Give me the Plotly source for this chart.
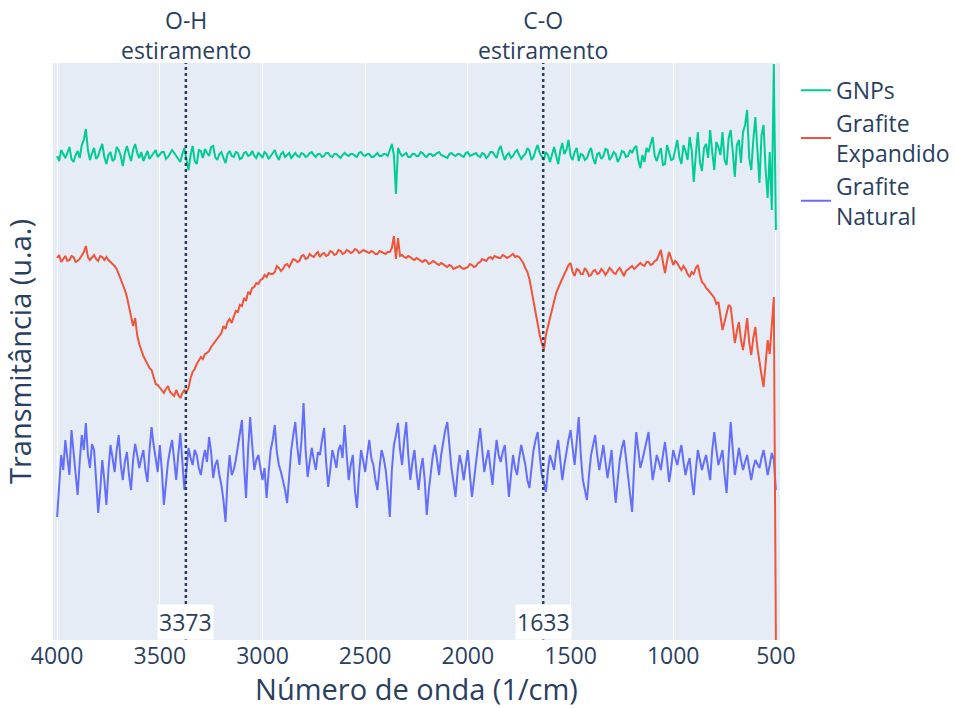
import plotly.graph_objects as go

# Wavenumber grid (cm^-1), sampled every 10 cm^-1
wavenumber = list(range(4000, 499, -10))

# Transmittance (arbitrary units, offset spectra)
gnps = [
    484, 479, 490, 486, 482, 487, 493, 481, 478, 485, 489, 482, 495, 500, 511, 490, 480, 487, 492, 481,
    484, 491, 496, 483, 476, 485, 488, 479, 481, 493, 490, 484, 474, 487, 494, 486, 479, 490, 496, 487,
    482, 488, 479, 484, 489, 481, 484, 487, 490, 483, 486, 488, 488, 481, 483, 486, 490, 487, 484, 480,
    478, 486, 492, 480, 470, 485, 494, 479, 476, 490, 489, 482, 491, 487, 484, 493, 494, 483, 480, 486,
    488, 482, 477, 486, 489, 484, 483, 488, 487, 481, 482, 487, 488, 484, 485, 489, 484, 482, 487, 485,
    482, 488, 486, 481, 484, 487, 490, 484, 480, 486, 488, 483, 485, 487, 482, 485, 487, 484, 483, 487,
    486, 483, 484, 487, 488, 485, 483, 486, 486, 483, 484, 487, 487, 484, 483, 486, 486, 484, 482, 485,
    487, 485, 484, 486, 486, 484, 483, 487, 488, 485, 484, 486, 486, 483, 483, 485, 487, 484, 484, 486,
    486, 484, 490, 496, 485, 446, 492, 487, 484, 486, 487, 483, 483, 486, 486, 484, 484, 488, 487, 484,
    483, 486, 486, 484, 485, 487, 488, 485, 484, 483, 482, 486, 487, 485, 484, 486, 486, 484, 483, 487,
    488, 484, 485, 486, 487, 484, 483, 487, 486, 482, 484, 488, 488, 485, 482, 490, 494, 486, 480, 485,
    487, 482, 484, 488, 490, 485, 481, 484, 486, 492, 489, 480, 483, 490, 495, 487, 484, 480, 488, 485,
    478, 487, 493, 484, 476, 489, 497, 486, 490, 500, 484, 480, 488, 492, 479, 486, 485, 480, 482, 488,
    492, 482, 476, 486, 487, 481, 484, 491, 490, 480, 483, 488, 486, 478, 482, 489, 488, 483, 484, 490,
    487, 492, 494, 480, 472, 485, 478, 492, 488, 496, 503, 484, 479, 486, 492, 475, 476, 495, 488, 480,
    481, 492, 500, 483, 476, 495, 489, 480, 503, 490, 458, 485, 508, 478, 469, 492, 496, 482, 510, 488,
    470, 498, 493, 485, 508, 480, 475, 502, 510, 488, 463, 495, 500, 477, 508, 515, 530, 482, 470, 500,
    523, 490, 457, 505, 515, 470, 442, 488, 430, 576, 410,
]

expandido = [
    382, 385, 378, 381, 384, 379, 380, 384, 383, 378, 379, 381, 384, 388, 394, 383, 380, 382, 385, 381,
    379, 384, 383, 380, 383, 380, 378, 377, 374, 371, 366, 361, 356, 350, 343, 333, 326, 314, 322, 305,
    296, 289, 284, 280, 276, 272, 270, 263, 256, 255, 252, 249, 247, 251, 254, 248, 246, 244, 250, 245,
    242, 247, 250, 248, 252, 262, 268, 271, 276, 280, 283, 281, 286, 287, 289, 293, 296, 298, 302, 304,
    307, 314, 311, 318, 321, 317, 324, 329, 328, 335, 334, 342, 339, 348, 346, 352, 353, 357, 356, 360,
    361, 365, 363, 367, 366, 366, 368, 374, 372, 369, 371, 375, 376, 373, 377, 381, 380, 378, 379, 384,
    385, 381, 382, 386, 384, 383, 386, 388, 383, 386, 387, 384, 385, 389, 388, 385, 386, 390, 389, 386,
    387, 390, 389, 387, 388, 391, 390, 387, 388, 390, 389, 388, 387, 389, 388, 386, 386, 389, 388, 387,
    386, 388, 388, 392, 404, 381, 402, 384, 385, 383, 382, 384, 383, 381, 380, 382, 381, 379, 378, 380,
    379, 376, 377, 379, 378, 376, 375, 377, 376, 374, 373, 375, 374, 371, 372, 373, 374, 372, 371, 372,
    373, 376, 375, 373, 374, 377, 378, 381, 380, 379, 382, 383, 381, 384, 383, 382, 382, 385, 384, 382,
    383, 385, 386, 383, 384, 383, 380, 377, 372, 368, 361, 350, 336, 327, 315, 305, 297, 290, 305, 314,
    322, 332, 340, 347, 352, 357, 362, 366, 370, 375, 377, 368, 364, 371, 370, 366, 366, 372, 369, 364,
    365, 369, 370, 366, 367, 371, 369, 365, 368, 372, 370, 367, 366, 370, 372, 368, 364, 369, 371, 372,
    374, 371, 373, 376, 377, 375, 374, 378, 378, 375, 376, 379, 380, 385, 390, 378, 367, 379, 388, 382,
    375, 379, 377, 373, 370, 374, 371, 366, 363, 368, 366, 372, 375, 365, 358, 356, 352, 350, 348, 345,
    342, 336, 338, 322, 310, 318, 326, 335, 333, 315, 297, 309, 318, 300, 290, 305, 322, 298, 285, 302,
    313, 292, 276, 265, 253, 280, 300, 286, 312, 343, 0,
]

natural = [
    123, 160, 185, 170, 200, 182, 165, 210, 190, 172, 145, 178, 205, 190, 217, 185, 172, 196, 190, 160,
    127, 150, 180, 160, 135, 170, 195, 182, 168, 190, 205, 175, 160, 178, 188, 165, 150, 180, 196, 185,
    172, 182, 190, 170, 158, 190, 213, 195, 180, 168, 195, 170, 135, 160, 178, 190, 200, 180, 160, 185,
    207, 178, 150, 170, 192, 182, 175, 190, 185, 172, 165, 180, 190, 178, 203, 188, 162, 175, 180, 165,
    155, 140, 118, 160, 185, 165, 170, 180, 195, 205, 220, 175, 142, 190, 223, 195, 170, 180, 185, 172,
    160, 172, 142, 168, 190, 200, 215, 188, 175, 168, 160, 150, 137, 165, 190, 205, 218, 192, 175, 200,
    237, 190, 163, 178, 192, 180, 170, 188, 185, 200, 212, 178, 153, 170, 190, 182, 172, 190, 195, 182,
    215, 185, 160, 175, 185, 150, 132, 165, 190, 180, 168, 185, 200, 182, 175, 160, 150, 172, 190, 182,
    170, 150, 123, 170, 195, 205, 217, 190, 175, 200, 218, 185, 160, 178, 190, 168, 150, 170, 182, 160,
    125, 150, 170, 185, 195, 178, 165, 185, 200, 210, 218, 190, 172, 158, 143, 168, 185, 175, 160, 175,
    190, 165, 143, 160, 175, 195, 212, 188, 168, 180, 190, 172, 155, 180, 200, 185, 178, 188, 195, 170,
    143, 165, 185, 172, 165, 182, 195, 185, 175, 160, 152, 172, 190, 200, 208, 185, 165, 158, 148, 170,
    185, 178, 170, 188, 200, 180, 160, 175, 190, 200, 210, 190, 175, 198, 223, 185, 160, 150, 140, 165,
    185, 195, 205, 185, 170, 182, 195, 178, 162, 175, 190, 160, 137, 160, 180, 192, 200, 182, 165, 145,
    128, 175, 208, 190, 172, 180, 190, 200, 208, 182, 160, 172, 185, 178, 170, 185, 198, 180, 158, 172,
    190, 182, 175, 186, 195, 178, 165, 175, 182, 160, 145, 170, 190, 180, 170, 178, 185, 172, 160, 190,
    208, 190, 175, 182, 190, 165, 147, 185, 218, 190, 165, 178, 192, 180, 170, 178, 185, 172, 160, 172,
    180, 176, 172, 182, 190, 178, 165, 175, 187, 180, 150,
]

series_names = ["Grafite<br>Natural", "Grafite<br>Expandido", "GNPs"]
series_colors = ["#636efa", "#EF553B", "#00cc96"]

band_positions = [3373, 1633]
band_labels = ["O-H<br>estiramento", "C-O<br>estiramento"]

x_ticks = [4000, 3500, 3000, 2500, 2000, 1500, 1000, 500]

assert len(gnps) == len(expandido) == len(natural) == len(wavenumber)

fig = go.Figure()
for name, color, values in zip(series_names, series_colors, [natural, expandido, gnps]):
    fig.add_trace(go.Scatter(x=wavenumber, y=values, name=name, mode="lines",
                             line=dict(color=color, width=2)))

for pos, lab in zip(band_positions, band_labels):
    fig.add_vline(x=pos, line=dict(color="#2a3f5f", width=2.5, dash="dot"))
    fig.add_annotation(x=pos, y=1, xref="x", yref="paper", yanchor="bottom",
                       text=lab, showarrow=False, font=dict(size=23), yshift=-5)
    fig.add_annotation(x=pos, y=0, xref="x", yref="paper", yanchor="bottom",
                       text=str(pos), showarrow=False, bgcolor="white",
                       font=dict(size=23))

fig.update_layout(
    template="plotly",
    width=955, height=708,
    margin=dict(l=53, r=175, t=63, b=68, autoexpand=False),
    font=dict(family="Open Sans", size=23, color="#2a3f5f"),
    legend=dict(traceorder="reversed", font=dict(size=23), y=0.99, x=1.022),
    showlegend=True,
)
fig.update_xaxes(range=[4020, 480], tickvals=x_ticks, showgrid=True, zeroline=False,
                 automargin=False,
                 title=dict(text="Número de onda (1/cm)", font=dict(size=29), standoff=18))
fig.update_yaxes(range=[0, 577], showticklabels=False, showgrid=False, zeroline=False,
                 automargin=False,
                 title=dict(text="Transmitância (u.a.)", font=dict(size=29)))

fig.write_html("out.html")
